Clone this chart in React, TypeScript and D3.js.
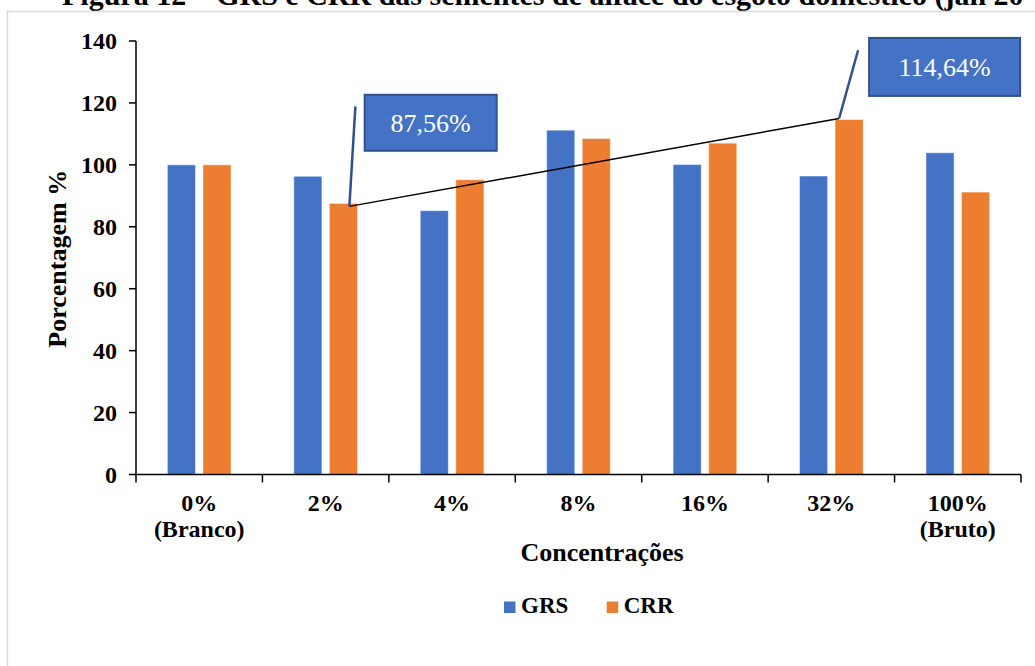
import React from "react";
import * as d3 from "d3";

// Germination (GRS) and root growth (CRR) relative to the control, per concentration
const categories = ["0%|(Branco)", "2%", "4%", "8%", "16%", "32%", "100%|(Bruto)"];
const seriesNames = ["GRS", "CRR"];
const grsValues = [100, 96.3, 85.2, 111.2, 100.1, 96.4, 103.9];
const crrValues = [100, 87.56, 95.2, 108.5, 107.0, 114.64, 91.2];
const yTicks = [0, 20, 40, 60, 80, 100, 120, 140];
const colors = ["#4472C4", "#ED7D31"];

const W = 1035;
const H = 666;
const FONT = "'Liberation Serif', 'Times New Roman', serif";

export default function App() {
  const left = 136;
  const right = 1021;
  const top = 41;
  const bottom = 474.5;

  const x0 = d3.scaleBand<string>().domain(categories).range([left, right]).padding(0);
  const groupPad = 31.4;
  const x1 = d3
    .scaleBand<string>()
    .domain(seriesNames)
    .range([groupPad, x0.bandwidth() - groupPad])
    .paddingInner(0.21);
  const y = d3.scaleLinear().domain([0, 140]).range([bottom, top]);

  const values = [grsValues, crrValues];

  // Callouts on the CRR bars: anchor point, leader line top, label box
  const callouts = [
    { cat: 1, ax: 20, ay: 3, lx: 6, ly: -100, bx: 15.3, by: -111.6, bw: 132, bh: 56 },
    { cat: 5, ax: 4, ay: -1, lx: 19, ly: -68.3, bx: 30, by: -80.6, bw: 151, bh: 58 },
  ].map((c) => {
    const v = crrValues[c.cat];
    const px = (x0(categories[c.cat]) as number) + (x1("CRR") as number) + c.ax;
    const py = y(v) + c.ay;
    return { ...c, v, px, py };
  });

  const fmt = (v: number) => v.toFixed(2).replace(".", ",") + "%";

  return (
    <svg
      width={W}
      height={H}
      style={{ position: "absolute", left: 0, top: 0, background: "#fff" }}
      fontFamily={FONT}
    >
      {/* figure caption, running past the page edges */}
      <text x={62} y={5} fontSize={30} fontWeight="bold" fill="#000">
        Figura 12 – GRS e CRR das sementes de alface do esgoto doméstico (jan 20
      </text>

      {/* chart area frame */}
      <rect x={7.5} y={11.5} width={1100} height={700} fill="#fff" stroke="#D9D9D9" strokeWidth={1.5} />

      {/* bars */}
      {categories.map((c, i) => (
        <g key={c} transform={`translate(${x0(c)},0)`}>
          {seriesNames.map((s, j) => (
            <rect
              key={s}
              x={x1(s)}
              y={y(values[j][i])}
              width={x1.bandwidth()}
              height={y(0) - y(values[j][i])}
              fill={colors[j]}
              stroke="rgba(255,255,255,0.45)"
              strokeWidth={1}
            />
          ))}
        </g>
      ))}

      {/* y axis */}
      <line x1={left} x2={left} y1={top} y2={bottom} stroke="#000" strokeWidth={1.5} />
      {yTicks.map((t) => (
        <g key={t}>
          <line x1={left - 7} x2={left} y1={y(t)} y2={y(t)} stroke="#000" strokeWidth={1.5} />
          <text x={117} y={y(t) + 8} textAnchor="end" fontSize={24} fontWeight="bold">
            {t}
          </text>
        </g>
      ))}

      {/* x axis */}
      <line x1={left} x2={right} y1={bottom} y2={bottom} stroke="#000" strokeWidth={1.5} />
      {[...categories.map((c) => x0(c) as number), right].map((xv, i) => (
        <line key={i} x1={xv} x2={xv} y1={bottom} y2={bottom + 8} stroke="#000" strokeWidth={1.5} />
      ))}
      {categories.map((c) => {
        const lines = c.split("|");
        const cx = (x0(c) as number) + x0.bandwidth() / 2;
        return (
          <text key={c} x={cx} y={511} textAnchor="middle" fontSize={24} fontWeight="bold">
            {lines.map((l, k) => (
              <tspan key={k} x={cx} dy={k === 0 ? 0 : 26}>
                {l}
              </tspan>
            ))}
          </text>
        );
      })}

      {/* axis titles */}
      <text x={602} y={560.5} textAnchor="middle" fontSize={26} fontWeight="bold">
        Concentrações
      </text>
      <text
        transform={`translate(66,${(top + bottom) / 2 + 1}) rotate(-90)`}
        textAnchor="middle"
        fontSize={26}
        fontWeight="bold"
      >
        Porcentagem %
      </text>

      {/* trend line between the two highlighted CRR values */}
      <line
        x1={callouts[0].px}
        y1={callouts[0].py}
        x2={callouts[1].px}
        y2={callouts[1].py}
        stroke="#000"
        strokeWidth={1.5}
      />

      {/* callouts */}
      {callouts.map((c, i) => (
        <g key={i}>
          <line
            x1={c.px}
            y1={c.py}
            x2={c.px + c.lx}
            y2={c.py + c.ly}
            stroke="#2F528F"
            strokeWidth={2.5}
          />
          <rect
            x={c.px + c.bx}
            y={c.py + c.by}
            width={c.bw}
            height={c.bh}
            fill="#4472C4"
            stroke="#2F528F"
            strokeWidth={2}
          />
          <text
            x={c.px + c.bx + c.bw / 2}
            y={c.py + c.by + c.bh / 2 + 9}
            textAnchor="middle"
            fontSize={26}
            fill="#fff"
          >
            {fmt(c.v)}
          </text>
        </g>
      ))}

      {/* legend */}
      {seriesNames.map((s, j) => {
        const lx = [504, 606.7][j];
        return (
          <g key={s}>
            <rect x={lx} y={601.5} width={11.5} height={11.5} fill={colors[j]} />
            <text x={lx + 17} y={613.3} fontSize={23} fontWeight="bold">
              {s}
            </text>
          </g>
        );
      })}
    </svg>
  );
}
